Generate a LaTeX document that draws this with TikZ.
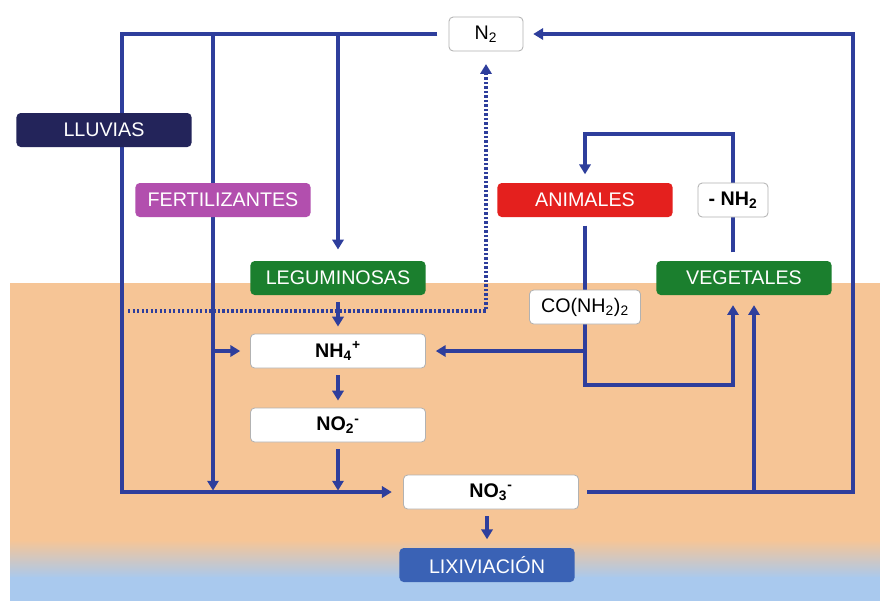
\documentclass[tikz,border=0pt]{standalone}
\usepackage{fontspec}
\setmainfont{Liberation Sans}
\usetikzlibrary{arrows.meta,positioning,calc}

\pgfdeclarelayer{back}
\pgfdeclarelayer{lines}
\pgfsetlayers{back,lines,main}

\definecolor{ciclo}{HTML}{2E3E9C}
\definecolor{suelo}{HTML}{F6C596}
\definecolor{agua}{HTML}{A9C9EE}
\definecolor{lluvia}{HTML}{23245A}
\definecolor{abono}{HTML}{B24FAE}
\definecolor{planta}{HTML}{1B7F2E}
\definecolor{animal}{HTML}{E4201E}
\definecolor{lavado}{HTML}{3A62B5}

\tikzset{
  box/.style={rectangle, rounded corners=3pt, minimum width=4.375cm,
    minimum height=0.85cm, inner sep=0pt, font=\fontsize{14}{16}\selectfont},
  colorbox/.style={box, fill=#1, text=white},
  whitebox/.style={box, fill=white, draw=gray!60, line width=0.6pt},
  flow/.style={draw=ciclo, line width=2.3pt, line join=miter,
    -{Triangle[length=7pt,width=8pt]}},
  dotflow/.style={flow, dash pattern=on 1.6pt off 1.6pt},
}

\begin{document}
\begin{tikzpicture}[x=0.025cm, y=-0.025cm]
        \useasboundingbox (0,0) rectangle (880,601);

        % soil and water
        \begin{pgfonlayer}{back}
            \fill[white] (0,0) rectangle (880,601);
            \fill[suelo] (10,283) rectangle (880,541);
            \shade[top color=suelo, bottom color=agua] (10,540) rectangle (880,578);
            \fill[agua] (10,577) rectangle (880,601);
        \end{pgfonlayer}

        \node (n2) [whitebox, minimum width=1.85cm] at (486,34) {N\textsubscript{2}};
        \node (lluvias) [colorbox=lluvia] at (104,130) {LLUVIAS};
        \node (fert) [colorbox=abono] at (223,200) {FERTILIZANTES};
        \node (legum) [colorbox=planta] at (338,278) {LEGUMINOSAS};
        \node (animales) [colorbox=animal] at (585,200) {ANIMALES};
        \node (nhtwo) [whitebox, minimum width=1.75cm, font=\fontsize{14}{16}\selectfont\bfseries] at (733,200) {- NH\textsubscript{2}};
        \node (vegetales) [colorbox=planta] at (744,278) {VEGETALES};
        \node (urea) [whitebox, minimum width=2.775cm] at (585,307) {CO(NH\textsubscript{2})\textsubscript{2}};
        \node (nhfour) [whitebox, font=\fontsize{14}{16}\selectfont\bfseries] at (338,351) {NH\textsubscript{4}\textsuperscript{+}};
        \node (notwo) [whitebox, font=\fontsize{14}{16}\selectfont\bfseries] at (338,425) {NO\textsubscript{2}\textsuperscript{-}};
        \node (nothree) [whitebox, font=\fontsize{14}{16}\selectfont\bfseries] at (491,492) {NO\textsubscript{3}\textsuperscript{-}};
        \node (lixiv) [colorbox=lavado] at (487,565) {LIXIVIACIÓN};

        \coordinate (rain) at (122,492);
        \coordinate (fix) at (338,34);
        \coordinate (fertdown) at (213,34);
        \coordinate (fertend) at (213,492);
        \coordinate (fertin) at (213,351);
        \coordinate (denit) at (128,311);
        \coordinate (nitend) at (338,492);
        \coordinate (back) at (853,34);
        \coordinate (uptake) at (754,492);
        \coordinate (turn) at (585,385);
        \coordinate (split) at (585,351);
        \coordinate (eat) at (585,134);

        \begin{pgfonlayer}{lines}
            \draw[flow, shorten <=8pt, shorten >=8pt] (n2.west) -| (rain) -- (nothree.west);
            \draw[flow, shorten >=1pt] (fertdown) -- (fertend);
            \draw[flow, shorten >=7pt] (fertin) -- (nhfour.west);
            \draw[flow, shorten >=8pt] (fix) -- (legum.north);
            \draw[dotflow, shorten >=9pt] (denit) -| (n2.south);
            \draw[flow, shorten <=5pt, shorten >=5pt] (legum) -- (nhfour);
            \draw[flow, shorten <=5pt, shorten >=5pt] (nhfour) -- (notwo);
            \draw[flow, shorten <=5pt, shorten >=1pt] (notwo) -- (nitend);
            \draw[flow, shorten <=5pt, shorten >=6pt] (nothree.south -| lixiv) -- (lixiv.north);
            \draw[flow, shorten <=6pt, shorten >=7pt] (nothree.east) -| (back) -- (n2.east);
            \draw[flow, shorten >=7pt] (uptake) -- (vegetales.south -| uptake);
            \draw[flow, shorten <=6pt, shorten >=7pt] (animales.south) -- (turn) -| (vegetales.south -| nhtwo);
            \draw[flow, shorten >=7pt] (split) -- (nhfour.east);
            \draw[flow, shorten <=6pt, shorten >=6pt] (vegetales.north -| nhtwo) |- (eat) -- (animales.north);
        \end{pgfonlayer}
    \end{tikzpicture}
\end{document}
